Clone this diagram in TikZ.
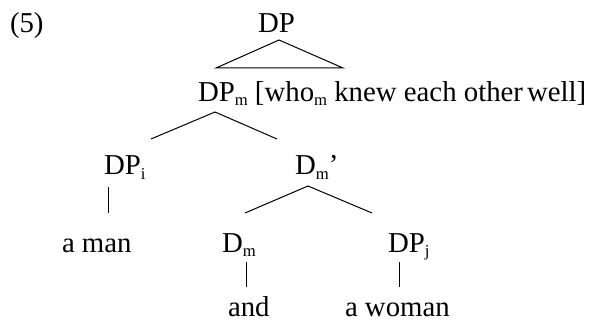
\documentclass[tikz,border=0pt]{standalone}
\usepackage{fontspec}
\setmainfont{Liberation Serif}
\newcommand{\sbs}[1]{\raisebox{-3pt}{\fontsize{12.5}{12.5}\selectfont #1}}
\begin{document}
\begin{tikzpicture}[x=0.75pt,y=-0.75pt,
  lab/.style={anchor=base west,inner sep=0pt,outer sep=0pt,font=\fontsize{21.6}{24}\selectfont},
  edge/.style={line width=0.75pt}]
\useasboundingbox (0,0) rectangle (600,321);
\node[lab] (ex) at (10,33) {(5)};
\node[lab] (DP) at (258,33) {DP};
\node[lab] (DPm) at (198,102) {DP\sbs{m} [who\sbs{m} knew each other\hspace{3pt}well]};
\node[lab] (DPi) at (104,175) {DP\sbs{i}};
\node[lab] (Dmb) at (295,175) {D\sbs{m}’};
\node[lab] (aman) at (62,252) {a man};
\node[lab] (Dm) at (222,252) {D\sbs{m}};
\node[lab] (DPj) at (388,252) {DP\sbs{j}};
\node[lab] (and) at (228,316) {and};
\node[lab] (woman) at (345,316) {a woman};
% coordinates
\coordinate (t0) at (279,40);
\coordinate (t1) at (216,68);
\coordinate (t2) at (343,68);
\coordinate (b0) at (215,112);
\coordinate (b1) at (151,139);
\coordinate (b2) at (277,139);
\coordinate (c0) at (308,186);
\coordinate (c1) at (245,213);
\coordinate (c2) at (372,213);
\coordinate (v1a) at (108,187);
\coordinate (v1b) at (108,213);
\coordinate (v2a) at (246,262);
\coordinate (v2b) at (246,287);
\coordinate (v3a) at (399,262);
\coordinate (v3b) at (399,287);
\draw[edge] (t0) -- (t1) -- (t2) -- cycle;
\draw[edge] (b1) -- (b0) -- (b2);
\draw[edge] (c1) -- (c0) -- (c2);
\draw[edge] (v1a) -- (v1b);
\draw[edge] (v2a) -- (v2b);
\draw[edge] (v3a) -- (v3b);
\end{tikzpicture}
\end{document}
